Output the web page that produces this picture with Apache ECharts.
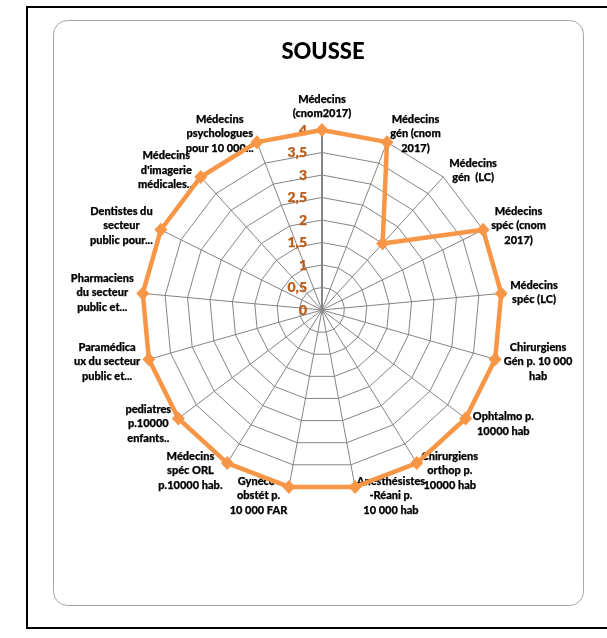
<!DOCTYPE html>
<html>
<head>
<meta charset="utf-8">
<script src="https://cdn.jsdelivr.net/npm/echarts@6/dist/echarts.min.js"></script>
<style>
html,body{margin:0;padding:0;background:#fff;}
#chart{width:607px;height:638px;}
</style>
</head>
<body>
<div id="chart"></div>
<script>
const titleText = 'SOUSSE';
const indicatorNames = [
  'Médecins\n(cnom2017)',
  'Médecins\ngén (cnom\n2017)',
  'Médecins\ngén  (LC)',
  'Médecins\nspéc (cnom\n2017)',
  'Médecins\nspéc (LC)',
  'Chirurgiens\nGén p. 10 000\nhab',
  'Ophtalmo p.\n10000 hab',
  'Chirurgiens\northop p.\n10000 hab',
  'Anesthésistes\n-Réani p.\n10 000 hab',
  'Gynéco-\nobstét p.\n10 000 FAR',
  'Médecins\nspéc ORL\np.10000 hab.',
  'pediatres\np.10000\nenfants..',
  'Paramédica\nux du secteur\npublic et...',
  'Pharmaciens\ndu secteur\npublic et...',
  'Dentistes du\nsecteur\npublic pour...',
  'Médecins\nd\'imagerie\nmédicales...',
  'Médecins\npsychologues\npour 10 000...'
];
const sousseValues = [4, 4, 2, 4, 4, 4, 4, 4, 4, 4, 4, 4, 4, 4, 4, 4, 4];
const tickLabels = ['0', '0,5', '1', '1,5', '2', '2,5', '3', '3,5', '4'];
const axisMin = 0;
const axisMax = 4;
const axisStep = 0.5;

// ECharts lays radar indicators counter-clockwise; reorder so they run clockwise like the reference
const order = [0].concat(indicatorNames.map((_, i) => i).slice(1).reverse());
const indicators = order.map(i => ({ name: indicatorNames[i], min: axisMin, max: axisMax }));
const orderedValues = order.map(i => sousseValues[i]);

const CX = 322, CY = 310, R = 180;
const gridColor = '#858585';
const font = 'Lato, "Open Sans", sans-serif';

const chart = echarts.init(document.getElementById('chart'), null, { renderer: 'canvas' });
chart.setOption({
  backgroundColor: '#ffffff',
  animation: false,
  title: {
    text: titleText,
    left: 318,
    textAlign: 'center',
    top: 36,
    textStyle: { fontFamily: font, fontWeight: 900, fontSize: 22, color: '#000' }
  },
  graphic: [
    { type: 'rect', shape: { x: 27, y: 7, width: 600, height: 621 }, style: { fill: 'none', stroke: '#000', lineWidth: 2 }, z: -10 },
    { type: 'rect', shape: { x: 53.5, y: 20.5, width: 530, height: 585, r: 14 }, style: { fill: 'none', stroke: '#a6a6a6', lineWidth: 1 }, z: -9 }
  ],
  radar: {
    center: [CX, CY],
    radius: R,
    startAngle: 90,
    splitNumber: (axisMax - axisMin) / axisStep,
    shape: 'polygon',
    indicator: indicators,
    nameGap: 9,
    axisName: {
      color: '#000',
      fontFamily: font,
      fontWeight: 900,
      fontSize: 11,
      lineHeight: 14.5,
      formatter: function (name) {
        return name.split('\n').map(l => '{c|' + l + '}').join('\n');
      },
      rich: {
        c: { align: 'center', color: '#000', fontFamily: font, fontWeight: 900, fontSize: 11, lineHeight: 14.5,
             textBorderColor: '#000', textBorderWidth: 0.25 }
      }
    },
    axisLine: { lineStyle: { color: gridColor, width: 1 } },
    splitLine: { lineStyle: { color: gridColor, width: 1 } },
    splitArea: { show: false },
    axisTick: { show: false },
    axisLabel: { show: false }
  },
  polar: { center: [CX, CY], radius: R },
  angleAxis: { show: false, startAngle: 90, min: 0, max: 360 },
  radiusAxis: {
    min: axisMin,
    max: axisMax,
    interval: axisStep,
    axisLine: { show: true, lineStyle: { color: '#858585', width: 2 } },
    axisTick: { show: false },
    splitLine: { show: false },
    axisLabel: {
      show: true,
      margin: 15,
      color: '#B85C1A',
      fontFamily: font,
      fontWeight: 900,
      fontSize: 14,
      textBorderColor: '#B85C1A',
      textBorderWidth: 0.25,
      formatter: function (v) { return tickLabels[Math.round((v - axisMin) / axisStep)]; }
    },
    z: 5
  },
  series: [{
    type: 'radar',
    z: 10,
    symbol: 'diamond',
    symbolSize: [13, 14],
    lineStyle: { color: '#F79646', width: 4.5 },
    itemStyle: { color: '#F79646' },
    data: [{ value: orderedValues, name: titleText }]
  }]
});
</script>
</body>
</html>
